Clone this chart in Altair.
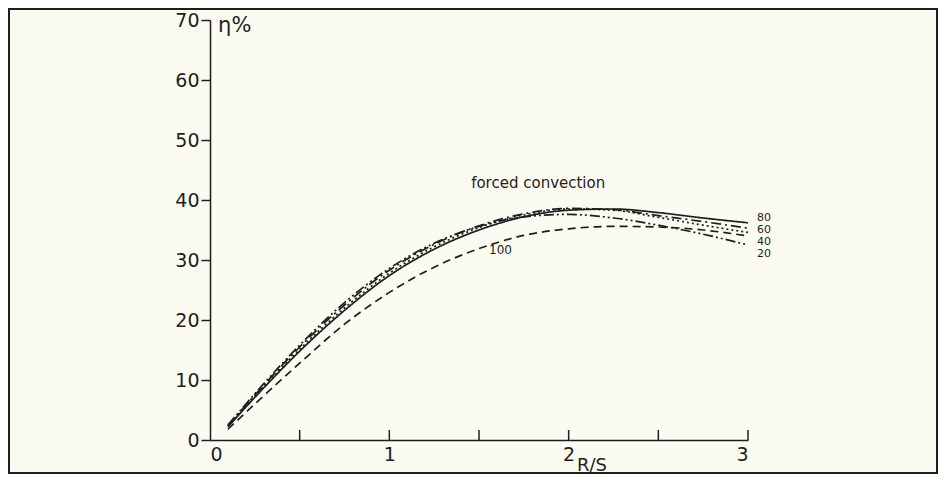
import altair as alt
import pandas as pd

# R/S positions where the curves were read
rs = [0.1, 0.25, 0.5, 0.75, 1.0, 1.25, 1.5, 1.75, 2.0, 2.25, 2.5, 2.75, 3.0]

# efficiency eta (%) for each curve, labelled by its parameter
eta_20 = [2.5, 7.7, 15.8, 22.9, 28.6, 32.8, 35.6, 37.2, 37.6, 37.0, 35.8, 34.3, 32.5]
eta_40 = [2.3, 7.3, 15.1, 22.0, 27.8, 32.2, 35.4, 37.5, 38.5, 38.3, 37.1, 35.8, 34.6]
eta_60 = [2.4, 7.5, 15.5, 22.5, 28.3, 32.6, 35.7, 37.7, 38.6, 38.4, 37.4, 36.4, 35.3]
eta_80 = [2.2, 7.1, 14.8, 21.6, 27.4, 31.8, 35.0, 37.2, 38.3, 38.5, 37.9, 37.0, 36.2]
eta_100 = [1.8, 6.0, 12.8, 19.3, 24.6, 28.8, 31.9, 34.1, 35.2, 35.6, 35.5, 35.0, 34.0]

series_names = ["20", "40", "60", "80", "100"]
series_values = [eta_20, eta_40, eta_60, eta_80, eta_100]
dash_styles = [[10, 3, 2, 3, 2, 3], [2, 3], [10, 4, 2, 4], [1, 0], [8, 5]]

y_ticks = [0, 10, 20, 30, 40, 50, 60, 70]
x_labels = [0, 1, 2, 3]
x_minor_ticks = [0.5, 1.0, 1.5, 2.0, 2.5, 3.0]

# end-of-curve labels
end_label_text = ["80", "60", "40", "20"]
end_label_y = [37.0, 35.0, 33.0, 31.0]

rows = []
for name, vals in zip(series_names, series_values):
    for x, v in zip(rs, vals):
        rows.append({"rs": x, "eta": v, "series": name})
df = pd.DataFrame(rows)

INK = "#1e1e1e"
FONT = "DejaVu Sans"

xscale = alt.Scale(domain=[0, 3], nice=False, zero=False)
yscale = alt.Scale(domain=[0, 70], nice=False, zero=False)

lines = alt.Chart(df).mark_line(color=INK, strokeWidth=1.7, interpolate="monotone").encode(
    x=alt.X("rs:Q", scale=xscale,
            axis=alt.Axis(values=x_labels, ticks=False, labelPadding=5, title=None,
                          format="d")),
    y=alt.Y("eta:Q", scale=yscale,
            axis=alt.Axis(values=y_ticks, tickSize=9, labelPadding=2, title=None)),
    detail="series:N",
    strokeDash=alt.StrokeDash("series:N", scale=alt.Scale(domain=series_names, range=dash_styles),
                              legend=None),
)

ticks = alt.Chart(pd.DataFrame({"t": x_minor_ticks})).mark_rule(color=INK, strokeWidth=1.5).encode(
    x=alt.X("t:Q", scale=xscale),
    y=alt.value(420),
    y2=alt.value(410),
)

end_labels = alt.Chart(pd.DataFrame({"x": [3.05] * 4, "y": end_label_y, "t": end_label_text})).mark_text(
    align="left", baseline="middle", font=FONT, fontSize=11, color=INK
).encode(x=alt.X("x:Q", scale=xscale), y=alt.Y("y:Q", scale=yscale), text="t:N")


def label(x, y, t, size, align="center"):
    return alt.Chart(pd.DataFrame({"x": [x], "y": [y], "t": [t]})).mark_text(
        baseline="middle", align=align, font=FONT, fontSize=size, color=INK
    ).encode(x=alt.X("x:Q", scale=xscale), y=alt.Y("y:Q", scale=yscale), text="t:N")


annots = [
    label(1.83, 42.8, "forced  convection", 15),
    label(1.62, 31.7, "100", 12),
    label(0.045, 69.0, "η%", 21, "left"),
    label(2.13, -4.3, "R/S", 18),
]

frame = alt.Chart(pd.DataFrame({"a": [0]})).mark_rect(fillOpacity=0, stroke=INK, strokeWidth=2).encode(
    x=alt.value(-201), x2=alt.value(727), y=alt.value(-11), y2=alt.value(453)
)

chart = alt.layer(frame, lines, ticks, end_labels, *annots).properties(
    width=538, height=420,
    autosize=alt.AutoSizeParams(type="none"),
    padding={"left": 202, "top": 12, "right": 190, "bottom": 34},
    background="#fcfbf1",
).configure_axis(
    grid=False, domainColor=INK, domainWidth=1.5, tickColor=INK, tickWidth=1.5,
    labelFont=FONT, labelFontSize=19, labelColor=INK,
).configure_view(stroke="transparent")

chart.save("out.html", embed_options={"renderer": "svg", "actions": False})
